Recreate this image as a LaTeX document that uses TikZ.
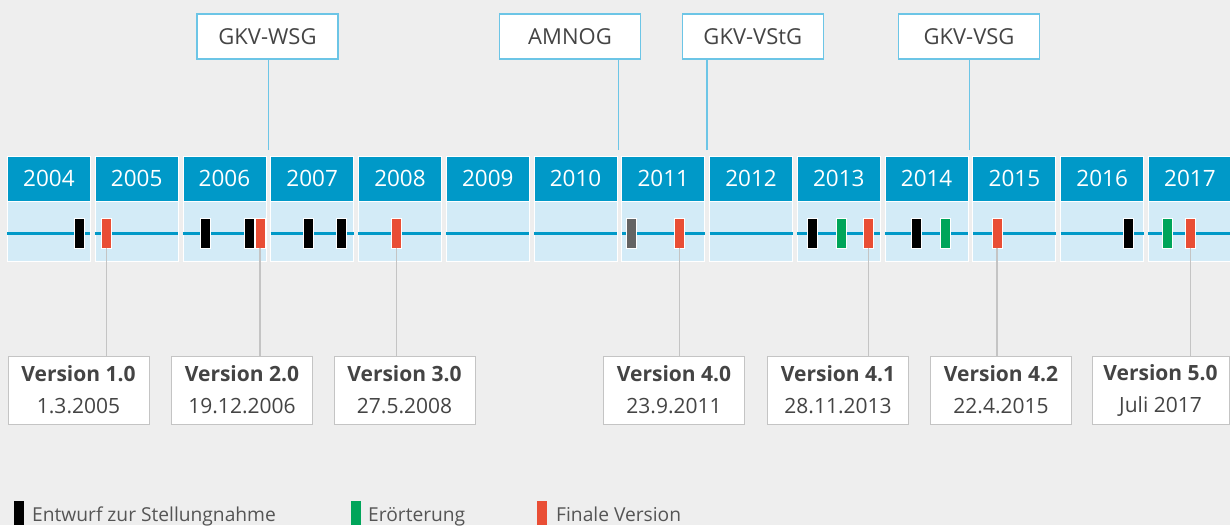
\documentclass[tikz,border=0pt]{standalone}
\usepackage{fontspec}
\setmainfont{Open Sans}
\definecolor{bgc}{HTML}{EEEEEE}
\definecolor{hdr}{HTML}{0099C8}
\definecolor{bodyc}{HTML}{D3EBF7}
\definecolor{redm}{HTML}{E94E35}
\definecolor{greenm}{HTML}{00A55A}
\definecolor{graym}{HTML}{646464}
\definecolor{boxline}{HTML}{6CC5E6}
\definecolor{gline}{HTML}{C4C4C4}
\definecolor{txt}{HTML}{444444}
\definecolor{lgtxt}{HTML}{555555}
\tikzset{
  hdrbox/.style={rectangle, fill=hdr, draw=white, line width=0.8pt, minimum width=83pt, minimum height=45pt, inner sep=0pt, text=white, font=\fontsize{22.5}{26}\selectfont},
  bodybox/.style={rectangle, fill=bodyc, draw=white, line width=0.8pt, minimum width=83pt, minimum height=60pt, inner sep=0pt},
  tl/.style={hdr, line width=2.8pt},
  mk/.style={rectangle, draw=white, line width=0.8pt, minimum width=10pt, minimum height=30pt, inner sep=0pt},
  vbox/.style={rectangle, fill=white, draw=gline, line width=1pt, minimum width=141pt, minimum height=68pt, inner sep=0pt, align=center, text=txt, font=\fontsize{21}{32}\selectfont},
  tbox/.style={rectangle, fill=white, draw=boxline, line width=1.3pt, minimum width=141pt, minimum height=45pt, inner sep=0pt, text=txt, font=\fontsize{22}{26}\selectfont},
  gl/.style={gline, line width=1.1pt},
  bl/.style={boxline, line width=1.3pt},
  lgbar/.style={rectangle, minimum width=10pt, minimum height=24pt, inner sep=0pt},
  lgtext/.style={anchor=base west, inner sep=0pt, text=lgtxt, font=\fontsize{19.2}{24}\selectfont}
}
\begin{document}
\begin{tikzpicture}[x=1pt,y=-1pt]
\fill[bgc] (0,0) rectangle (1230,525);
\useasboundingbox (0,0) rectangle (1230,525);
% year columns
\foreach \yr [count=\i from 0] in {2004,2005,2006,2007,2008,2009,2010,2011,2012,2013,2014,2015,2016,2017} {
  \pgfmathsetmacro\L{7+\i*87.77}
  \node[hdrbox, anchor=north west] (h\yr) at (\L,156) {\yr};
  \node[bodybox, anchor=north west] (b\yr) at (\L,201) {};
  \draw[tl] ([yshift=-1.7pt,xshift=0.4pt]b\yr.west) -- ([yshift=-1.7pt,xshift=-0.4pt]b\yr.east);
}
% markers
\node[mk, fill=black] (m1) at (79,233) {};
\node[mk, fill=redm] (m2) at (106.7,233) {};
\node[mk, fill=black] (m3) at (205,233) {};
\node[mk, fill=black] (m4) at (249.3,233) {};
\node[mk, fill=redm] (m5) at (260,233) {};
\node[mk, fill=black] (m6) at (308.3,233) {};
\node[mk, fill=black] (m7) at (341.7,233) {};
\node[mk, fill=redm] (m8) at (396.7,233) {};
\node[mk, fill=graym] (m9) at (631.7,233) {};
\node[mk, fill=redm] (m10) at (679.3,233) {};
\node[mk, fill=black] (m11) at (812.7,233) {};
\node[mk, fill=greenm] (m12) at (841,233) {};
\node[mk, fill=redm] (m13) at (868.7,233) {};
\node[mk, fill=black] (m14) at (916.7,233) {};
\node[mk, fill=greenm] (m15) at (945,233) {};
\node[mk, fill=redm] (m16) at (997,233) {};
\node[mk, fill=black] (m17) at (1128.3,233) {};
\node[mk, fill=greenm] (m18) at (1167.7,233) {};
\node[mk, fill=redm] (m19) at (1190.7,233) {};
% version boxes
\node[vbox] (v1) at (78.5,390) {{\bfseries Version 1.0}\\1.3.2005};
\node[vbox] (v2) at (242,390) {{\bfseries Version 2.0}\\19.12.2006};
\node[vbox] (v3) at (404.5,390) {{\bfseries Version 3.0}\\27.5.2008};
\node[vbox] (v4) at (674,390) {{\bfseries Version 4.0}\\23.9.2011};
\node[vbox] (v5) at (838,390) {{\bfseries Version 4.1}\\28.11.2013};
\node[vbox] (v6) at (1001,390) {{\bfseries Version 4.2}\\22.4.2015};
\node[vbox, minimum width=137pt] (v7) at (1160.5,390) {{\bfseries Version 5.0}\\Juli 2017};
\draw[gl] (m2.south) -- (v1.north -| m2.south);
\draw[gl] (m5.south) -- (v2.north -| m5.south);
\draw[gl] (m8.south) -- (v3.north -| m8.south);
\draw[gl] (m10.south) -- (v4.north -| m10.south);
\draw[gl] (m13.south) -- (v5.north -| m13.south);
\draw[gl] (m16.south) -- (v6.north -| m16.south);
\draw[gl] (m19.south) -- (v7.north -| m19.south);
% law boxes
\node[tbox] (t1) at (267.5,36.5) {GKV-WSG};
\node[tbox] (t2) at (570,36.5) {AMNOG};
\node[tbox] (t3) at (752.8,36.5) {GKV-VStG};
\node[tbox] (t4) at (969,36.5) {GKV-VSG};
\coordinate (c1) at (268.2,150);
\coordinate (c2) at (618.8,150);
\coordinate (c3) at (706.9,150);
\coordinate (c4) at (969.6,150);
\draw[bl] (c1) -- (c1 |- t1.south);
\draw[bl] (c2) -- (c2 |- t2.south);
\draw[bl] (c3) -- (c3 |- t3.south);
\draw[bl] (c4) -- (c4 |- t4.south);
% legend
\node[lgbar, fill=black] (lg1) at (19,513) {};
\node[lgtext] (lt1) at (32,521) {Entwurf zur Stellungnahme};
\node[lgbar, fill=greenm] (lg2) at (356,513) {};
\node[lgtext] (lt2) at (368,521) {Erörterung};
\node[lgbar, fill=redm] (lg3) at (542,513) {};
\node[lgtext] (lt3) at (556,521) {Finale Version};
\end{tikzpicture}
\end{document}
